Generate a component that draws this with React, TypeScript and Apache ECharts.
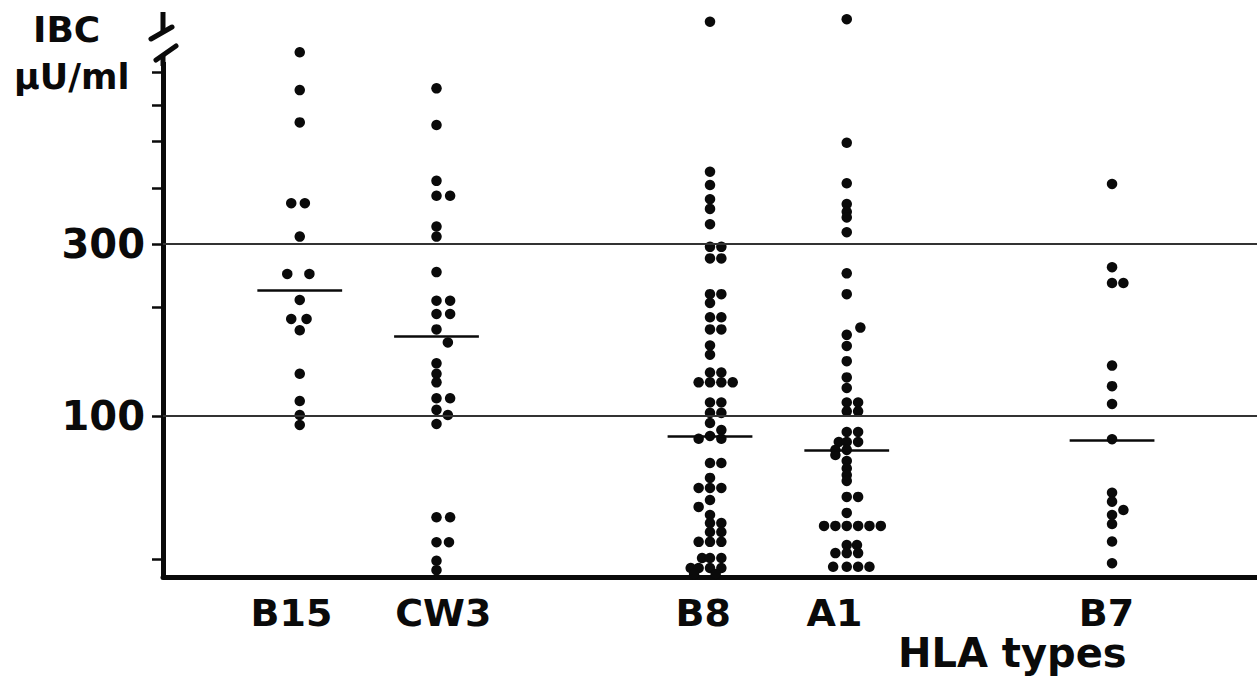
import React, { useEffect, useRef } from "react";
import * as echarts from "echarts";

// HLA types (x categories) and their column positions on the value x-axis
const categories = ["B15", "CW3", "B8", "A1", "B7"];
const categoryPositions = [1.0, 2.0, 4.0, 5.0, 6.94];
const labelPositions = [0.94, 2.05, 3.95, 4.91, 6.9];

// Each point: [lane (side-by-side slot), IBC value µU/ml]
const b15Points = [
  [0, 1024], [0, 804], [0, 654], [-0.75, 390], [0.45, 390], [0, 315],
  [-1.1, 248], [0.85, 248], [0, 210], [-0.75, 186], [0.6, 186], [0, 173],
  [0, 131], [0, 110], [0, 100.6], [0, 94.4],
];
const cw3Points = [
  [0, 813], [0, 643], [0, 450], [0, 409], [1.2, 409], [0, 336], [0, 315],
  [0, 251], [0, 209], [1.2, 209], [0, 192], [1.2, 192], [0, 174], [1, 160],
  [0, 140], [0, 131], [0, 124], [0, 112], [1.2, 112], [0, 104], [1, 100.6],
  [0, 95], [0, 52.3], [1.2, 52.3], [0, 44.6], [1.1, 44.6], [0, 39.6], [0, 37.3],
];
const b8Points = [
  [0, 1245], [0, 477], [0, 438], [0, 400], [0, 376], [0, 341], [0, 295], [1, 295],
  [0, 274], [1, 274], [0, 218], [1, 218], [0, 206], [0, 188], [1, 188], [0, 174],
  [1, 174], [0, 157], [0, 148], [0, 132], [1, 132], [-1, 124], [0, 124], [1, 124],
  [2, 124], [0, 109], [1, 109], [0, 102], [1, 102], [0, 95.6], [1, 91.4], [0, 88],
  [-1, 86.4], [1, 86.4], [0, 74], [1, 74], [0, 67.3], [-1, 63.1], [0, 63.1], [1, 63.1],
  [0, 58.4], [-1, 55.9], [0, 53.1], [0, 50.4], [1, 50.4], [0, 47.6], [1, 47.6],
  [-1, 44.7], [0, 44.7], [1, 44.7], [-0.7, 40.3], [0, 40.3], [1, 40.3],
  [-1.7, 37.8], [-1, 37.8], [0, 37.8], [1, 37.8], [-1.4, 36.4], [0.5, 36.4],
];
const a1Points = [
  [0, 1265], [0, 574], [0, 443], [0, 388], [0, 369], [0, 356], [0, 324], [0, 249],
  [0, 218], [1.2, 176], [0, 168], [0, 156.5], [0, 142], [0, 128], [0, 119.6],
  [0, 109], [1, 109], [0, 103], [1, 103], [0, 90.3], [1, 90.3], [-0.7, 84.7],
  [0, 84.7], [1, 84.7], [-1, 80.5], [0, 80.5], [-1, 77.9], [0, 75], [0, 71.5],
  [0, 68.5], [0, 66], [0, 59.6], [1, 59.6], [0, 53.8], [-2, 49.5], [-1, 49.5],
  [0, 49.5], [1, 49.5], [2, 49.5], [3, 49.5], [0, 43.8], [0.9, 43.8], [-1, 41.6],
  [0, 41.6], [1, 41.6], [-1.2, 38.1], [0, 38.1], [1, 38.1], [2, 38.1],
];
const b7Points = [
  [0, 441], [0, 259], [0, 234], [1, 234], [0, 138], [0, 121], [0, 108], [0, 86.2],
  [0, 61.2], [0, 57.8], [1, 54.8], [0, 53.1], [0, 50.1], [0, 44.8], [0, 39],
];
const groupPoints = [b15Points, cw3Points, b8Points, a1Points, b7Points];

// Median bars per group
const medians = [223, 166, 88, 80.5, 85.8];

// Horizontal reference levels and y-axis ticks / labels
const referenceLevels = [100, 300];
const yTickValues = [40, 100, 200, 300, 430, 580, 730, 900];
const yLabelValues = [100, 300];

const INK = "#0a0a0a";
const FONT = "DejaVu Sans";
const LANE = 0.083;
const MEDIAN_HALF = 0.31;

export default function App() {
  const ref = useRef<HTMLDivElement>(null);

  useEffect(() => {
    if (!ref.current) return;
    const chart = echarts.init(ref.current, null, { renderer: "svg" });

    const series: any[] = categories.map((name, i) => {
      const pos = categoryPositions[i];
      const s: any = {
        name,
        type: "scatter",
        symbol: "circle",
        symbolSize: 10.5,
        itemStyle: { color: INK, opacity: 1 },
        silent: true,
        data: groupPoints[i].map(([lane, v]) => [pos + lane * LANE, v]),
        markLine: {
          silent: true,
          symbol: ["none", "none"],
          label: { show: false },
          lineStyle: { color: INK, width: 2.5, type: "solid" },
          data: [
            [
              { coord: [pos - MEDIAN_HALF, medians[i]] },
              { coord: [pos + MEDIAN_HALF, medians[i]] },
            ],
          ],
        },
      };
      if (i === 0) {
        s.markLine.data = s.markLine.data.concat(
          referenceLevels.map((v) => ({ yAxis: v, lineStyle: { color: "#333", width: 1.8 } }))
        );
      }
      return s;
    });

    chart.setOption({
      animation: false,
      backgroundColor: "#ffffff",
      grid: { left: 163, right: 0, top: 12, bottom: 100, containLabel: false, outerBoundsMode: "none" },
      xAxis: {
        type: "value",
        min: 0,
        max: 8,
        axisLine: { show: true, lineStyle: { color: INK, width: 5 } },
        axisTick: { show: false },
        splitLine: { show: false },
        axisLabel: {
          customValues: labelPositions,
          formatter: (v: number) => {
            let best = 0;
            labelPositions.forEach((p, k) => {
              if (Math.abs(p - v) < Math.abs(labelPositions[best] - v)) best = k;
            });
            return categories[best];
          },
          fontFamily: FONT,
          fontWeight: "bold",
          fontSize: 38,
          lineHeight: 38,
          color: INK,
          margin: 17,
        },
      },
      yAxis: {
        type: "log",
        logBase: 10,
        min: 35.7,
        max: 1325,
        axisLine: { show: true, lineStyle: { color: INK, width: 5 } },
        axisTick: {
          show: true,
          customValues: yTickValues,
          length: 11,
          lineStyle: { color: INK, width: 2.5 },
        },
        splitLine: { show: false },
        minorTick: { show: false },
        axisLabel: {
          customValues: yLabelValues,
          fontFamily: FONT,
          fontWeight: "bold",
          fontSize: 40,
          color: INK,
          margin: 18,
        },
      },
      graphic: [
        { type: "rect", z: 100, shape: { x: 146, y: 6, width: 36, height: 56 }, style: { fill: "#ffffff" } },
        { type: "line", z: 101, shape: { x1: 163, y1: 12, x2: 163, y2: 32 }, style: { stroke: INK, lineWidth: 5 } },
        { type: "line", z: 101, shape: { x1: 151, y1: 39, x2: 172, y2: 27 }, style: { stroke: INK, lineWidth: 5, lineCap: "round" } },
        { type: "line", z: 101, shape: { x1: 156, y1: 60, x2: 176, y2: 46 }, style: { stroke: INK, lineWidth: 5, lineCap: "round" } },
        { type: "line", z: 101, shape: { x1: 163, y1: 55, x2: 163, y2: 66 }, style: { stroke: INK, lineWidth: 5 } },
        {
          type: "text", z: 101, x: 33, y: 29,
          style: { text: "IBC", fontFamily: FONT, fontWeight: "bold", fontSize: 36, fill: INK, textVerticalAlign: "middle", verticalAlign: "middle" },
        },
        {
          type: "text", z: 101, x: 14, y: 77,
          style: { text: "µU/ml", fontFamily: FONT, fontWeight: "bold", fontSize: 35, fill: INK, textVerticalAlign: "middle", verticalAlign: "middle" },
        },
        {
          type: "text", z: 101, x: 898, y: 653,
          style: { text: "HLA types", fontFamily: FONT, fontWeight: "bold", fontSize: 40, fill: INK, textVerticalAlign: "middle", verticalAlign: "middle" },
        },
      ],
      series,
    });

    return () => chart.dispose();
  }, []);

  return (
    <div
      ref={ref}
      style={{ position: "fixed", left: 0, top: 0, width: 1257, height: 677, background: "#fff" }}
    />
  );
}
